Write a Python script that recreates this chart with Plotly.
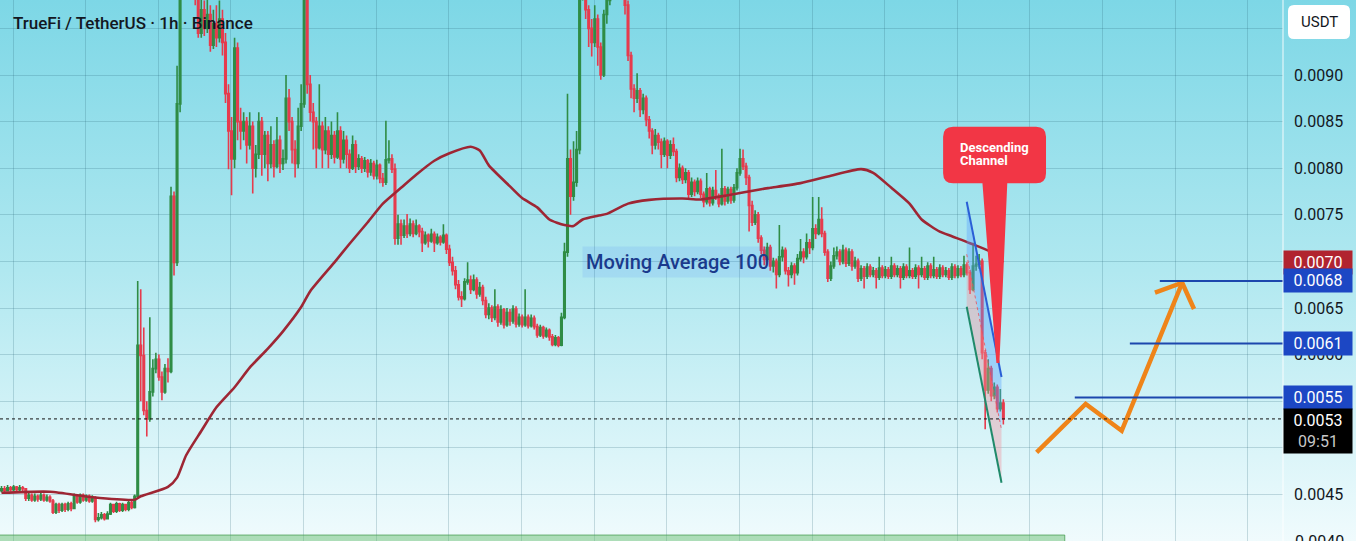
import base64
import plotly.graph_objects as go

# ---------------- DATA (prices in units of 0.0001 USDT) ----------------
SCALE = 1e-4
first_open = 45.4

closes = [
    45.6, 45.4, 45.7, 45.5, 45.8, 45.5, 45.7, 45.6,
    44.6, 44.9, 44.4, 44.8, 44.5, 44.9, 44.4, 44.7, 44.3,
    43.1, 43.9, 43.3, 43.9, 43.4, 44.0, 43.5,
    44.8, 44.2, 44.9, 44.4, 44.8, 44.3, 44.6,
    42.3, 42.5, 42.8, 42.4, 42.9,
    43.9, 43.2, 44.0, 43.3, 43.9, 43.4, 44.1, 43.6,
    44.8, 61.0, 59.9, 54.0, 53.1, 56.0, 58.5, 59.5, 57.6, 56.0, 58.5, 58.2, 77.0, 69.9, 86.9, 99.0,
    101.0, 103.0, 100.0, 102.0, 99.5, 94.5, 97.0, 95.0, 96.5, 93.2, 95.5, 94.0, 96.0, 93.5,
    88.0, 84.0, 81.0, 92.9, 85.0,
    84.0, 85.0, 82.5, 84.5, 80.0, 81.5, 85.0,
    81.5, 83.5, 80.5, 82.5, 80.2, 83.0, 80.5, 81.0,
    87.5, 85.0, 82.0, 80.5, 84.5, 86.9, 99.5, 89.0, 86.0,
    85.0, 82.2, 84.5, 82.0, 84.0,
    81.5, 83.5, 81.2, 84.0, 81.0, 83.0, 81.5,
    80.0, 82.5, 80.2, 81.0,
    80.0, 80.8, 79.6, 80.5, 79.2, 80.3, 78.9, 78.5,
    80.9, 81.0, 79.9, 72.5, 74.0,
    72.8, 73.8, 73.0, 74.0, 73.0, 73.8, 73.2,
    72.0, 72.8, 72.2, 72.9, 72.0, 72.6, 72.1, 72.8, 71.3, 69.9,
    69.0, 67.5, 66.2, 66.0, 67.8, 68.0, 67.0, 68.0, 66.5, 67.2, 65.8, 64.3, 65.0,
    64.0, 65.1, 63.5, 64.8, 63.2, 64.5, 63.6, 64.9, 63.3, 64.0, 63.2, 64.0, 63.1, 63.9, 63.0,
    62.1, 62.9, 62.0, 62.6, 61.9, 61.1, 61.8, 61.0,
    64.0, 71.0, 81.0, 77.0, 78.5, 82.0, 99.0, 101.0,
    97.0, 95.0, 93.5, 96.0, 93.0, 90.0, 96.5, 98.0,
    100.5, 102.0, 101.0, 103.0, 100.0, 97.5, 92.1, 88.5,
    87.5, 88.3, 86.3, 87.5, 85.2, 84.0, 82.5, 83.5,
    82.8, 81.5, 82.9, 81.4, 82.5, 81.8, 79.0, 80.0, 78.8,
    79.5, 77.2, 78.5, 77.5, 78.6, 77.2,
    76.4, 77.8, 76.3, 77.6, 77.0, 76.2, 77.8, 76.5, 77.7, 76.6, 77.9,
    79.5, 81.0, 80.2, 79.0, 76.0, 74.2, 75.0, 72.5, 71.2,
    70.2, 71.5, 69.5, 70.0, 68.6, 70.5, 71.2, 69.0, 68.6, 69.5,
    68.8, 70.3, 71.0, 70.5, 72.0, 71.5, 73.5, 73.0, 74.5, 73.0, 71.0, 68.2,
    69.5, 70.6, 71.0, 70.0, 71.2, 69.8, 71.0, 69.5, 70.0, 68.2,
    69.2, 68.4, 69.4, 68.6, 69.0, 68.3, 69.3, 68.5, 69.1, 68.4, 69.5, 68.6, 69.2, 68.3, 69.4, 68.5, 69.0,
    68.4, 69.3, 68.6, 69.2, 68.3, 69.5, 68.5, 69.1, 68.4, 69.3, 68.6, 69.0, 68.3, 69.4, 68.5, 69.2, 68.6,
    69.6, 68.8, 67.0, 69.5, 69.7, 70.0,
    60.2, 56.2, 58.5, 55.6, 56.5, 54.2, 54.8, 53.1,
]

highs = [
    45.9, 45.9, 46.0, 45.9, 46.0, 45.9, 46.0, 45.9,
    45.7, 45.2, 45.1, 45.1, 45.0, 45.2, 45.1, 45.0, 44.9,
    44.5, 44.1, 44.1, 44.1, 44.1, 44.2, 44.2,
    45.1, 45.0, 45.1, 45.1, 45.0, 45.0, 44.9,
    44.8, 43.0, 43.1, 43.0, 43.2,
    44.1, 44.0, 44.2, 44.1, 44.1, 44.0, 44.3, 44.3,
    45.0, 67.9, 67.0, 62.9, 55.0, 64.0, 59.5, 60.2, 60.0, 58.2, 59.0, 59.6, 78.0, 77.5, 91.0, 100.0,
    103.0, 104.0, 104.0, 103.0, 103.0, 100.0, 98.5, 98.0, 98.5, 97.5, 97.0, 97.5, 98.0, 97.0,
    94.5, 89.0, 85.5, 94.0, 93.5,
    86.5, 86.0, 85.5, 86.0, 85.0, 82.5, 86.0,
    85.5, 84.0, 84.0, 84.5, 83.0, 85.5, 83.5, 82.0,
    90.0, 88.5, 85.5, 83.0, 86.5, 89.0, 101.0, 100.0, 90.0,
    87.0, 85.5, 89.0, 85.0, 85.5,
    84.5, 85.0, 84.0, 86.0, 84.5, 84.0, 83.5,
    82.0, 83.5, 83.0, 81.5,
    81.3, 81.2, 81.0, 81.0, 80.8, 80.9, 80.5, 79.5,
    85.1, 83.0, 81.5, 80.5, 75.0,
    74.5, 74.5, 75.1, 74.6, 74.4, 74.5, 74.0,
    73.6, 73.2, 73.0, 73.5, 73.2, 73.0, 72.8, 74.0, 73.0, 71.8,
    70.5, 69.5, 68.0, 66.8, 68.2, 69.9, 68.5, 68.6, 68.3, 67.8, 67.5, 66.2, 65.5,
    65.3, 67.0, 65.4, 65.3, 65.0, 65.0, 64.9, 65.3, 65.2, 64.4, 64.3, 67.0, 64.3, 64.3, 64.2,
    63.3, 63.2, 63.1, 62.9, 62.8, 62.2, 62.1, 62.0,
    64.5, 72.0, 88.0, 82.0, 82.9, 84.0, 100.0, 103.0,
    101.5, 97.5, 96.0, 97.5, 96.5, 93.5, 97.0, 100.0,
    102.0, 103.0, 103.0, 104.0, 103.5, 100.5, 98.0, 92.5,
    89.0, 90.2, 88.6, 88.0, 87.8, 85.6, 84.3, 84.2,
    83.8, 83.2, 83.3, 83.1, 83.0, 83.3, 82.1, 80.5, 80.3,
    80.0, 79.8, 79.0, 78.8, 79.0, 78.9,
    77.5, 79.5, 78.0, 78.0, 79.8, 77.3, 82.1, 78.1, 78.0, 78.0, 78.3,
    80.0, 82.1, 82.0, 80.6, 79.3, 76.5, 75.5, 75.3, 72.8,
    71.6, 72.0, 71.8, 70.4, 70.3, 73.9, 71.6, 71.5, 69.4, 69.9,
    69.8, 70.8, 72.4, 71.4, 73.0, 72.4, 76.9, 74.0, 76.9, 75.8, 73.3, 71.3,
    70.0, 71.5, 71.6, 71.3, 71.8, 71.5, 71.4, 71.3, 70.5, 70.3,
    69.6, 69.5, 69.8, 69.7, 69.4, 69.3, 70.5, 69.6, 69.5, 69.4, 70.5, 69.8, 69.6, 69.5, 69.8, 69.7, 71.5,
    69.3, 69.7, 69.6, 70.5, 69.5, 69.9, 69.8, 70.5, 69.4, 69.7, 69.6, 69.4, 69.3, 69.8, 69.7, 69.6, 69.5,
    70.6, 69.9, 69.1, 72.0, 70.6, 70.8,
    70.3, 60.5, 59.5, 58.8, 57.0, 56.8, 56.3, 55.2,
]

lows = [
    45.2, 45.2, 45.3, 45.3, 45.3, 45.2, 45.3, 45.2,
    44.3, 44.3, 44.2, 44.2, 44.2, 44.3, 44.2, 44.2, 44.1,
    42.9, 42.9, 43.0, 43.1, 43.1, 43.2, 43.2,
    43.4, 44.0, 44.0, 44.2, 44.2, 44.1, 44.1,
    42.0, 42.1, 42.3, 42.2, 42.3,
    42.8, 43.0, 43.0, 43.1, 43.1, 43.2, 43.2, 43.4,
    43.5, 44.6, 55.0, 53.5, 51.2, 52.8, 55.5, 58.0, 57.2, 55.1, 55.8, 57.0, 58.0, 68.5, 69.5, 86.0,
    98.5, 100.0, 99.0, 99.0, 97.5, 94.0, 94.0, 94.2, 94.5, 92.5, 92.8, 93.0, 93.5, 92.1,
    87.0, 79.9, 77.1, 80.0, 83.0,
    82.0, 83.0, 80.5, 82.0, 77.3, 79.0, 81.0,
    79.2, 80.0, 78.6, 80.0, 79.0, 80.0, 79.5, 79.8,
    80.5, 84.0, 80.5, 79.0, 80.0, 84.0, 86.5, 88.0, 85.0,
    82.0, 80.0, 82.0, 80.0, 81.5,
    80.0, 81.0, 80.5, 81.0, 80.0, 80.5, 80.0,
    79.5, 79.8, 79.5, 79.8,
    79.5, 79.6, 79.0, 79.2, 78.8, 78.8, 78.4, 78.0,
    78.2, 80.5, 79.5, 71.8, 71.8,
    71.8, 72.5, 72.5, 72.7, 72.6, 72.8, 72.6,
    71.0, 71.8, 71.5, 72.0, 71.0, 71.8, 71.7, 71.9, 70.8, 69.5,
    68.5, 67.0, 65.8, 65.1, 65.8, 67.5, 66.5, 66.8, 66.0, 66.2, 65.3, 63.9, 63.8,
    63.5, 63.7, 63.0, 63.2, 62.8, 63.0, 63.1, 63.3, 62.9, 63.0, 62.9, 63.0, 62.8, 62.9, 62.7,
    61.8, 61.9, 61.7, 61.8, 61.5, 60.9, 60.9, 60.8,
    60.9, 63.8, 70.5, 75.0, 76.5, 78.0, 81.5, 98.0,
    96.0, 93.0, 92.0, 93.0, 91.0, 89.5, 89.8, 95.5,
    97.5, 100.0, 100.0, 100.5, 99.5, 96.5, 91.5, 87.5,
    86.0, 87.0, 85.5, 85.8, 84.5, 83.2, 81.5, 82.0,
    82.0, 80.0, 81.2, 80.0, 81.0, 81.3, 78.5, 78.6, 78.3,
    78.4, 76.8, 76.9, 77.0, 77.2, 76.8,
    75.8, 76.1, 75.9, 76.0, 76.6, 75.8, 76.0, 76.0, 76.2, 76.2, 76.3,
    77.6, 79.2, 79.8, 78.2, 73.2, 73.8, 73.9, 72.0, 70.8,
    69.6, 69.9, 69.0, 68.8, 67.1, 68.3, 70.0, 68.6, 67.3, 68.2,
    67.5, 68.5, 70.0, 69.8, 70.2, 70.8, 71.2, 72.4, 72.8, 72.6, 70.6, 67.8,
    67.9, 69.2, 70.2, 69.6, 69.7, 69.4, 69.5, 69.0, 69.2, 67.8,
    67.9, 67.1, 68.1, 68.3, 68.3, 67.1, 68.0, 68.2, 68.2, 68.1, 68.1, 68.3, 68.3, 67.1, 68.0, 68.2, 68.2,
    68.1, 68.1, 67.1, 68.3, 68.0, 68.0, 68.2, 68.2, 68.1, 68.1, 68.3, 68.3, 68.0, 68.0, 68.2, 68.2, 68.3,
    68.3, 68.5, 66.5, 66.8, 69.0, 69.2,
    59.5, 52.0, 55.8, 55.0, 55.2, 53.8, 53.9, 52.5,
]

# Moving Average 100 (sampled along the chart, candle index -> value)
ma_idx = [0, 16, 30, 44, 46, 55, 58, 61, 66, 71, 77, 82, 88, 93, 99, 102, 110, 115, 121, 126,
          132, 137, 143, 148, 155, 158, 161, 168, 172, 177, 181, 186, 189, 192, 197, 200, 207, 214,
          225, 231, 240, 251, 254, 264, 274, 284, 288, 294, 300, 304, 310, 314, 320, 327, 331]
ma_val = [45.17, 45.28, 44.7, 44.43, 44.8, 45.8, 46.8, 49.2, 51.8, 54.35, 56.5, 58.6, 60.65, 62.5,
          65.1, 66.8, 69.9, 71.9, 74.2, 76.2, 77.9, 79.3, 80.8, 81.6, 82.3, 81.9, 80.3, 78.05, 76.8,
          75.8, 74.5, 73.9, 73.8, 74.5, 74.9, 75.1, 76.2, 76.6, 76.75, 76.65, 77.1, 77.75, 77.9, 78.4,
          79.2, 79.9, 79.5, 77.9, 76.2, 74.5, 73.2, 72.7, 71.95, 71.0, 69.9]

# Descending channel drawing
chan_idx = [318.9, 330.4]
chan_upper = [76.4, 57.6]
chan_lower = [65.14, 46.25]

# Projected path (orange arrow)
path_idx = [342.0, 358.2, 370.1, 390.1]
path_val = [49.52, 54.70, 51.83, 67.71]
head_idx = [381.1, 390.1, 394.0]
head_val = [66.64, 67.71, 64.89]

# Target levels
targets = [0.00679, 0.00612, 0.00554]
target_start = [382.7, 372.8, 354.6]

# Callout "Descending Channel"
callout_box = [311.1, 345.1, 78.38, 84.45]      # idx0, idx1, low, high
callout_tip = [324.1, 332.3, 329.2, 59.1]      # base left idx, base right idx, tip idx, tip value

# Bottom zone
zone = [-1.0, 351.3, 39.0, 40.64]

y_ticks = [0.0040, 0.0045, 0.0050, 0.0055, 0.0060, 0.0065, 0.0070, 0.0075, 0.0080, 0.0085, 0.0090, 0.0095]
hidden_ticks = [0.0055, 0.0070, 0.0095]   # fully covered by price boxes in the reference
X_RANGE = [-0.5, 423.4]
Y_RANGE = [0.0040, 0.009805]

assert len(closes) == len(highs) == len(lows), (len(closes), len(highs), len(lows))
assert len(ma_idx) == len(ma_val)

W, H = 1356, 541
PLOT_W = 1283

opens = [first_open] + closes[:-1]
xs = list(range(len(closes)))
S = lambda arr: [v * SCALE for v in arr]

GREEN = "#2f8c45"
RED = "#e63b4d"

fig = go.Figure()

fig.add_trace(go.Candlestick(
    x=xs, open=S(opens), high=S(highs), low=S(lows), close=S(closes),
    increasing=dict(line=dict(color=GREEN, width=1.6), fillcolor=GREEN),
    decreasing=dict(line=dict(color=RED, width=1.6), fillcolor=RED),
    whiskerwidth=0, showlegend=False, hoverinfo="skip",
))

fig.add_trace(go.Scatter(
    x=ma_idx, y=S(ma_val), mode="lines",
    line=dict(color="#9e2634", width=2.6, shape="spline", smoothing=0.6),
    showlegend=False, hoverinfo="skip",
))

# Channel fills
mid = [(a + b) / 2 for a, b in zip(chan_upper, chan_lower)]
fig.add_trace(go.Scatter(
    x=chan_idx + chan_idx[::-1], y=S(chan_upper + mid[::-1]),
    fill="toself", fillcolor="rgba(90,160,255,0.38)", line=dict(width=0),
    mode="lines", showlegend=False, hoverinfo="skip",
))
fig.add_trace(go.Scatter(
    x=chan_idx + chan_idx[::-1], y=S(mid + chan_lower[::-1]),
    fill="toself", fillcolor="rgba(240,150,160,0.40)", line=dict(width=0),
    mode="lines", showlegend=False, hoverinfo="skip",
))
fig.add_trace(go.Scatter(x=chan_idx, y=S(mid), mode="lines",
                         line=dict(color="rgba(230,80,95,0.8)", width=1, dash="dot"),
                         showlegend=False, hoverinfo="skip"))
fig.add_trace(go.Scatter(x=chan_idx, y=S(chan_upper), mode="lines",
                         line=dict(color="#2a5fd6", width=2),
                         showlegend=False, hoverinfo="skip"))
fig.add_trace(go.Scatter(x=chan_idx, y=S(chan_lower), mode="lines",
                         line=dict(color="#1f8a6a", width=2),
                         showlegend=False, hoverinfo="skip"))

# Orange projection
ORANGE = "#ef8419"
fig.add_trace(go.Scatter(x=path_idx, y=S(path_val), mode="lines",
                         line=dict(color=ORANGE, width=4.5),
                         showlegend=False, hoverinfo="skip"))
fig.add_trace(go.Scatter(x=head_idx, y=S(head_val), mode="lines",
                         line=dict(color=ORANGE, width=4.5),
                         showlegend=False, hoverinfo="skip"))

shapes = []
# bottom zone
shapes.append(dict(type="rect", xref="x", yref="y", x0=zone[0], x1=zone[1],
                   y0=zone[2] * SCALE, y1=zone[3] * SCALE,
                   fillcolor="rgba(90,185,100,0.45)", line=dict(color="rgba(60,150,70,0.7)", width=1),
                   layer="above"))
# target lines
for t, s in zip(targets, target_start):
    shapes.append(dict(type="line", xref="x", yref="y", x0=s, x1=X_RANGE[1] + 5, y0=t, y1=t,
                       line=dict(color="#1c47ad", width=2), layer="above"))
# current price dotted line
last = closes[-1] * SCALE
shapes.append(dict(type="line", xref="paper", yref="y", x0=0, x1=1, y0=last, y1=last,
                   line=dict(color="#111111", width=1, dash="dot"), layer="above"))

# callout shape (rounded box + pointer)
bx0, bx1, by0, by1 = callout_box[0], callout_box[1], callout_box[2] * SCALE, callout_box[3] * SCALE
rx = 10 / ((PLOT_W) / (X_RANGE[1] - X_RANGE[0]))
ry = 10 * (Y_RANGE[1] - Y_RANGE[0]) / H
pl, pr, ptx, pty = callout_tip[0], callout_tip[1], callout_tip[2], callout_tip[3] * SCALE
p = (f"M {bx0+rx},{by1} L {bx1-rx},{by1} Q {bx1},{by1} {bx1},{by1-ry} "
     f"L {bx1},{by0+ry} Q {bx1},{by0} {bx1-rx},{by0} "
     f"L {pr},{by0} L {ptx+0.5},{pty} L {ptx-0.5},{pty} L {pl},{by0} "
     f"L {bx0+rx},{by0} Q {bx0},{by0} {bx0},{by0+ry} L {bx0},{by1-ry} Q {bx0},{by1} {bx0+rx},{by1} Z")
shapes.append(dict(type="path", xref="x", yref="y", path=p, fillcolor="#f23645",
                   line=dict(width=0), layer="above"))

# axis separator
shapes.append(dict(type="line", xref="paper", yref="paper", x0=1, x1=1, y0=0, y1=1,
                   line=dict(color="rgba(255,255,255,0.9)", width=1), layer="above"))
# USDT rounded box (paper coords)
ux0, ux1 = 1288 / PLOT_W, 1350 / PLOT_W
uy1, uy0 = 1 - 5 / H, 1 - 39 / H
urx, ury = 6 / PLOT_W, 6 / H
up = (f"M {ux0+urx},{uy1} L {ux1-urx},{uy1} Q {ux1},{uy1} {ux1},{uy1-ury} L {ux1},{uy0+ury} "
      f"Q {ux1},{uy0} {ux1-urx},{uy0} L {ux0+urx},{uy0} Q {ux0},{uy0} {ux0},{uy0+ury} "
      f"L {ux0},{uy1-ury} Q {ux0},{uy1} {ux0+urx},{uy1} Z")
shapes.append(dict(type="path", xref="paper", yref="paper", path=up, fillcolor="white",
                   line=dict(width=0), layer="above"))

FONT = "Roboto, Noto Sans, sans-serif"
annotations = []
annotations.append(dict(xref="paper", yref="paper", x=11 / PLOT_W, y=1 - 23 / H,
                        xanchor="left", yanchor="middle", showarrow=False,
                        text="TrueFi / TetherUS · 1h · Binance",
                        font=dict(family=FONT, size=17, color="#131722", weight=500)))
annotations.append(dict(xref="paper", yref="paper", x=1319 / PLOT_W, y=1 - 22 / H,
                        xanchor="center", yanchor="middle", showarrow=False, text="USDT",
                        font=dict(family=FONT, size=15, color="#131722")))
# bottom-most tick label, cut by the chart edge as in the reference
annotations.append(dict(xref="paper", yref="y", x=1, y=y_ticks[0], xanchor="left", yanchor="middle",
                        xshift=10, showarrow=False, text=f"{y_ticks[0]:.4f}",
                        font=dict(family=FONT, size=16, color="#131722")))
# MA label
annotations.append(dict(xref="x", yref="y", x=223.2, y=0.006993, showarrow=False,
                        text="Moving Average 100", xanchor="center", yanchor="middle",
                        bgcolor="rgba(41,98,255,0.10)", borderpad=3,
                        font=dict(family=FONT, size=20, color="#1a3a8c", weight=500)))
# callout text
annotations.append(dict(xref="x", yref="y", x=316.0, y=0.008227, showarrow=False,
                        text="Descending", xanchor="left", yanchor="middle",
                        font=dict(family=FONT, size=13, color="white", weight=700)))
annotations.append(dict(xref="x", yref="y", x=316.0, y=0.008088, showarrow=False,
                        text="Channel", xanchor="left", yanchor="middle",
                        font=dict(family=FONT, size=13, color="white", weight=700)))

# right-axis price boxes
def price_box(val, text, color):
    return dict(xref="paper", yref="y", x=1, y=val, xanchor="left", yanchor="middle",
                showarrow=False, text=text, bgcolor=color, borderpad=2, width=64,
                align="center", font=dict(family=FONT, size=16, color="white"))

annotations.append(price_box(ma_val[-1] * SCALE, f"{ma_val[-1] * SCALE:.4f}", "#b1242f"))
for t in targets:
    annotations.append(price_box(t, f"{t:.4f}", "#1c47c4"))
annotations.append(dict(xref="paper", yref="y", x=1, y=last, xanchor="left", yanchor="top",
                        yshift=11, showarrow=False,
                        text=f"{last:.4f}<br><span style='color:#c8c8c8'>09:51</span>",
                        bgcolor="#000000", borderpad=2, width=64, align="center",
                        font=dict(family=FONT, size=16, color="white")))

# background gradient
svg = ('<svg xmlns="http://www.w3.org/2000/svg" width="100" height="100" preserveAspectRatio="none">'
       '<defs><linearGradient id="g" x1="0" y1="0" x2="0" y2="1">'
       '<stop offset="0" stop-color="#7dd7e6"/><stop offset="0.5" stop-color="#b0e8f0"/>'
       '<stop offset="1" stop-color="#f0fbfd"/></linearGradient></defs>'
       '<rect width="100" height="100" fill="url(#g)"/></svg>')
src = "data:image/svg+xml;base64," + base64.b64encode(svg.encode()).decode()

tick_text = ["" if v in hidden_ticks else f"{v:.4f}" for v in y_ticks]

fig.update_layout(
    width=W, height=H, autosize=False,
    margin=dict(l=0, r=W - PLOT_W, t=0, b=0, pad=0),
    paper_bgcolor="#f0fbfd", plot_bgcolor="rgba(0,0,0,0)",
    images=[dict(source=src, xref="paper", yref="paper", x=0, y=1, sizex=W / PLOT_W, sizey=1,
                 xanchor="left", yanchor="top", sizing="stretch", layer="below")],
    shapes=shapes, annotations=annotations,
    showlegend=False, hovermode=False,
    xaxis=dict(range=X_RANGE, showticklabels=False, ticks="", tick0=3.8, dtick=24,
               showgrid=True, gridcolor="rgba(40,100,120,0.22)", gridwidth=1,
               zeroline=False, showline=False, rangeslider=dict(visible=False), fixedrange=True),
    yaxis=dict(range=Y_RANGE, side="right", tickvals=y_ticks, ticktext=tick_text,
               showgrid=True, gridcolor="rgba(40,100,120,0.22)", gridwidth=1,
               zeroline=False, showline=False, ticks="", ticklabelstandoff=10,
               tickfont=dict(family=FONT, size=16, color="#131722"), fixedrange=True),
)

fig.write_html("out.html", config={"displayModeBar": False},
               post_script="document.body.style.margin='0';document.body.style.overflow='hidden';")
